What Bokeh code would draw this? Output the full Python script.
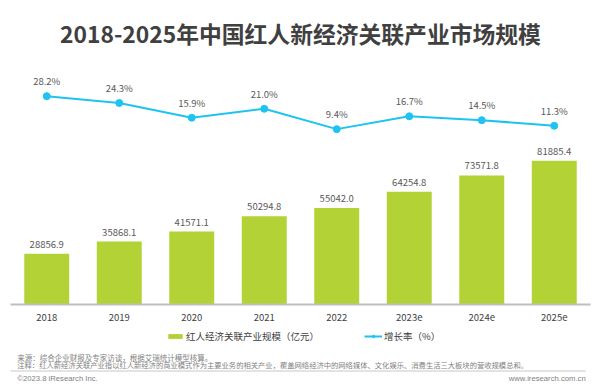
from bokeh.plotting import figure
from bokeh.layouts import column
from bokeh.models import (Range1d, FactorRange, Legend, LegendItem, Label, BoxAnnotation, ColumnDataSource)
from bokeh.core.properties import value
from bokeh.embed import file_html
from bokeh.resources import INLINE

years = ["2018", "2019", "2020", "2021", "2022", "2023e", "2024e", "2025e"]
scale = [28856.9, 35868.1, 41571.1, 50294.8, 55042.0, 64254.8, 73571.8, 81885.4]
growth = [28.2, 24.3, 15.9, 21.0, 9.4, 16.7, 14.5, 11.3]

title_text = "2018-2025年中国红人新经济关联产业市场规模"
bar_name = "红人经济关联产业规模（亿元）"
line_name = "增长率（%）"
source_note = "来源：综合企业财报及专家访谈，根据艾瑞统计模型核算。"
remark_note = "注释：红人新经济关联产业指以红人新经济的商业模式作为主要业务的相关产业，覆盖网络经济中的网络媒体、文化娱乐、消费生活三大板块的营收规模总和。"
copyright_text = "©2023.8 iResearch Inc."
url_text = "www.iresearch.com.cn"

CJK = "Noto Sans CJK SC"
BAR_COLOR = "#B2D235"
LINE_COLOR = "#1FC3EF"
TEXT_COLOR = "#595959"
NOTE_COLOR = "#7F7F7F"
NAN = float("nan")

src = ColumnDataSource(dict(
    x=years, v=scale, g=growth,
    vl=[f"{v:.1f}" for v in scale],
    gl=[f"{g:.1f}%" for g in growth],
))

# ---------------- main chart ----------------
p = figure(width=600, height=326, output_backend="svg", toolbar_location=None,
           x_range=FactorRange(*years, range_padding=0),
           y_range=Range1d(0, 139030), y_axis_location=None,
           min_border_left=10, min_border_right=10, min_border_top=60, min_border_bottom=22)
p.extra_y_ranges = {"rate": Range1d(-90.5, 48.5)}
p.outline_line_color = None
p.grid.visible = False

p.title.text = title_text
p.title.align = "center"
p.title.text_font = CJK
p.title.text_font_size = "22.8px"
p.title.text_font_style = "bold"
p.title.text_color = "#404040"
p.title.standoff = 22

bars = p.vbar(x="x", top="v", width=0.62, source=src, fill_color=BAR_COLOR, line_color=None)
p.text(x="x", y="v", text="vl", source=src, text_align="center", text_baseline="bottom",
       y_offset=-6, text_font=value(CJK), text_font_size="9.5px", text_color=TEXT_COLOR)

line = p.line(x="x", y="g", source=src, y_range_name="rate", line_color=LINE_COLOR, line_width=2)
dots = p.scatter(x="x", y="g", source=src, y_range_name="rate", size=7,
                 fill_color=LINE_COLOR, line_color=LINE_COLOR)
p.text(x="x", y="g", text="gl", source=src, y_range_name="rate", text_align="center",
       text_baseline="bottom", y_offset=-8, text_font=value(CJK), text_font_size="9.5px",
       text_color=TEXT_COLOR)

ax = p.xaxis[0]
ax.axis_line_color = "#BFBFBF"
ax.axis_line_width = 2
ax.major_tick_line_color = None
ax.minor_tick_line_color = None
ax.major_label_standoff = 3
ax.major_label_text_font = CJK
ax.major_label_text_font_size = "9.5px"
ax.major_label_text_color = "#404040"

# ---------------- footer: legend + notes ----------------
f = figure(width=600, height=60, output_backend="svg", toolbar_location=None,
           x_range=Range1d(0, 600), y_range=Range1d(386, 326),
           x_axis_location=None, y_axis_location=None,
           min_border=0, min_border_left=0, min_border_right=0, min_border_top=0, min_border_bottom=0)
f.outline_line_color = None
f.grid.visible = False

# legend-only renderers (no visible marks)
lg_bar = f.vbar(x=[NAN], top=[NAN], width=1, fill_color=BAR_COLOR, line_color=None)
lg_line = f.line(x=[NAN], y=[NAN], line_color=LINE_COLOR, line_width=2)
lg_dot = f.scatter(x=[NAN], y=[NAN], size=7, fill_color=LINE_COLOR, line_color=LINE_COLOR)

legend = Legend(items=[LegendItem(label=bar_name, renderers=[lg_bar]),
                       LegendItem(label=line_name, renderers=[lg_line, lg_dot])],
                orientation="horizontal", location=(156, 43),
                glyph_width=18, glyph_height=6, label_standoff=2, spacing=45,
                label_text_font=CJK, label_text_font_size="9.5px", label_text_color="#404040",
                border_line_color=None, background_fill_alpha=0, padding=0, margin=0)
f.add_layout(legend)

f.add_layout(Label(x=7, y=357, text=source_note, text_font=CJK, text_font_size="7.5px",
                   text_color=NOTE_COLOR, text_baseline="middle"))
f.add_layout(Label(x=7, y=364.5, text=remark_note, text_font=CJK, text_font_size="7.3px",
                   text_color=NOTE_COLOR, text_baseline="middle"))
f.add_layout(BoxAnnotation(left=0, right=595, top=370, bottom=371,
                           fill_color="#C8C8C8", fill_alpha=1, line_color=None))
f.add_layout(Label(x=7, y=378, text=copyright_text, text_font="Liberation Sans",
                   text_font_size="7.7px", text_color=NOTE_COLOR, text_baseline="middle"))
f.add_layout(Label(x=595, y=378, text=url_text, text_font="Liberation Sans",
                   text_font_size="7.7px", text_color=NOTE_COLOR, text_baseline="middle",
                   text_align="right"))

layout = column(p, f, spacing=0)
open("out.html", "w").write(file_html(layout, INLINE))
